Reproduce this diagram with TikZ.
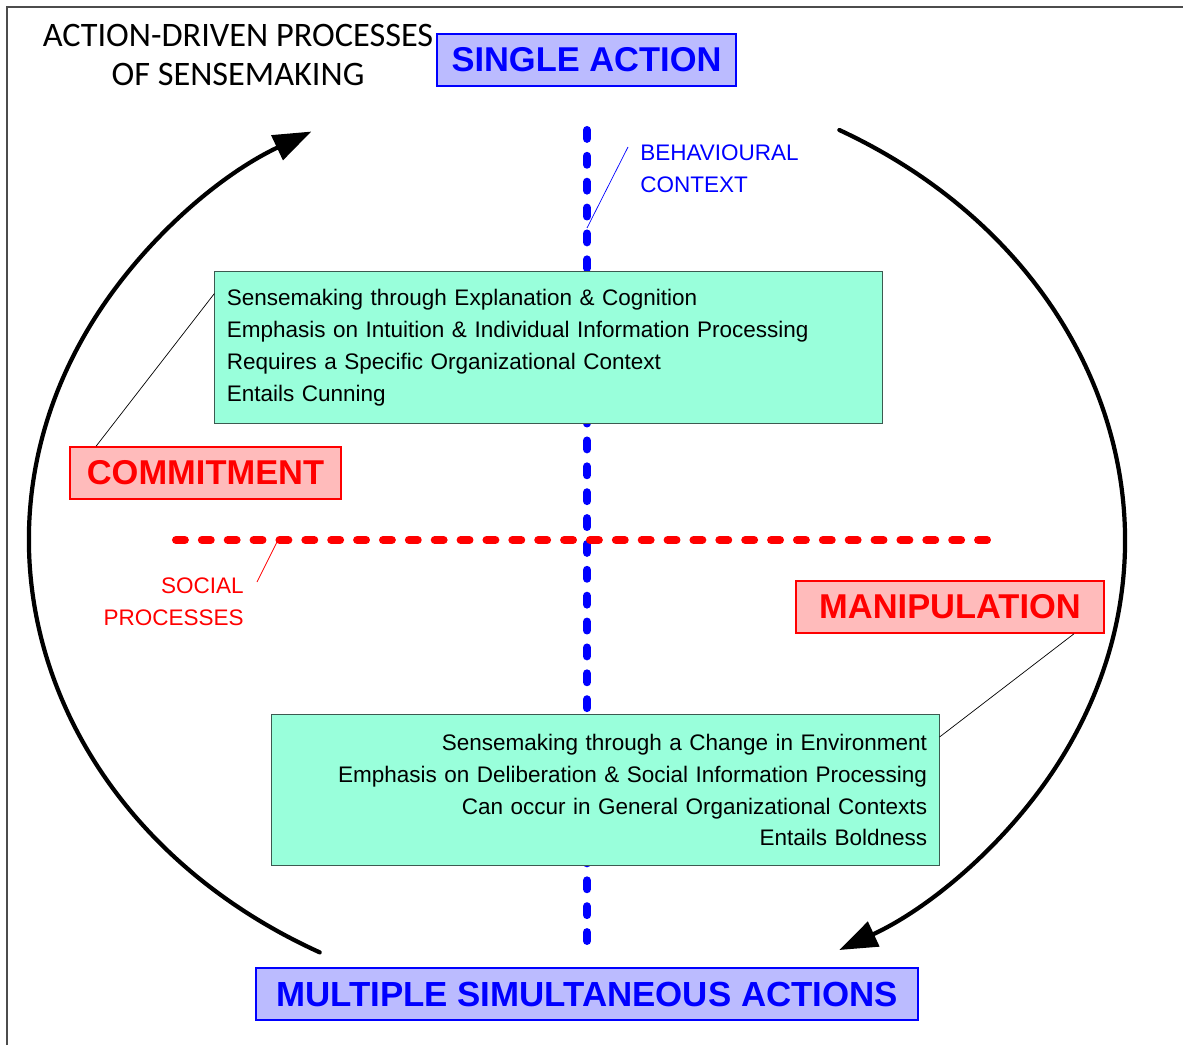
\documentclass[tikz,border=0pt]{standalone}
\usepackage{fontspec}
\setmainfont{Liberation Sans}
\newfontfamily\titlefont{Carlito}
\usetikzlibrary{calc,arrows.meta}

\definecolor{actfill}{RGB}{187,187,255}
\definecolor{modefill}{RGB}{255,187,187}
\definecolor{notefill}{RGB}{153,255,219}
\definecolor{noteline}{RGB}{60,90,80}

\tikzset{
  action/.style={draw=blue,line width=1.2pt,fill=actfill,text=blue,
    font=\fontsize{24.5pt}{28pt}\selectfont\bfseries,minimum height=1.3cm,inner xsep=0.3cm},
  mode/.style={draw=red,line width=1.2pt,fill=modefill,text=red,
    font=\fontsize{24.5pt}{28pt}\selectfont\bfseries,minimum height=1.3cm,inner xsep=0.3cm},
  notebox/.style={draw=noteline,line width=0.7pt,fill=notefill,
    font=\fontsize{16pt}{22.7pt}\selectfont,text width=16.075cm,inner xsep=0.3cm,
    minimum height=3.775cm},
  axis/.style={line width=5.7pt,line cap=round,dash pattern=on 6.3pt off 12.1pt},
  cycle/.style={line width=3pt,line cap=round,-{Triangle[length=27pt,width=19pt]}},
  leader/.style={line width=0.5pt}
}

\begin{document}
\begin{tikzpicture}[x=0.025cm,y=-0.025cm]
  \useasboundingbox (0,0) rectangle (1183,1045);
  % frame
  \draw[black!70,line width=1.5pt] (7,1045) -- (7,7) -- (1183,7);

  % title
  \node[font=\titlefont\fontsize{24.4pt}{28.4pt}\selectfont,align=center] (title) at (238,55)
    {ACTION-DRIVEN PROCESSES\\OF SENSEMAKING};

  % the two axes
  \coordinate (vtop) at (587,130);
  \coordinate (vbot) at (587,942);
  \coordinate (hleft) at (176,540);
  \coordinate (hright) at (988,540);
  \draw[axis,blue] (vtop) -- (vbot);
  \draw[axis,red] (hleft) -- (hright);

  % cycle arrows around the axes
  \draw[cycle] (577,540) ++(118:548 and 467) arc (118:241:548 and 467);
  \draw[cycle] (577,540) ++(-61.4:548 and 467) arc (-61.4:61.4:548 and 467);

  % end points of action
  \node[action,minimum width=7.475cm] (single) at (586.5,60) {SINGLE ACTION};
  \node[action,minimum width=16.55cm,font=\fontsize{24.8pt}{28pt}\selectfont\bfseries]
    (multi) at (587,994) {MULTIPLE SIMULTANEOUS ACTIONS};

  % axis labels
  \node[text=blue,font=\fontsize{16pt}{22.7pt}\selectfont,align=left,anchor=west,inner sep=0pt]
    (behav) at (640,169) {BEHAVIOURAL\\CONTEXT};
  \node[text=red,font=\fontsize{16pt}{22.7pt}\selectfont,align=right,anchor=east,inner sep=0pt]
    (social) at (244,602) {SOCIAL\\PROCESSES};
  \coordinate (behavtip) at (628,147);
  \coordinate (behavaxis) at (587,228);
  \coordinate (socialtip) at (257,582);
  \coordinate (socialaxis) at (278,540);
  \draw[leader,blue] (behavtip) -- (behavaxis);
  \draw[leader,red] (socialtip) -- (socialaxis);

  % descriptions of the two modes
  \node[notebox,align=left] (upper) at (548.5,347.5)
    {Sensemaking through Explanation \& Cognition\\
     Emphasis on Intuition \& Individual Information Processing\\
     Requires a Specific Organizational Context\\
     Entails Cunning};
  \node[notebox,align=right] (lower) at (605.5,790)
    {Sensemaking through a Change in Environment\\
     Emphasis on Deliberation \& Social Information Processing\\
     Can occur in General Organizational Contexts\\
     Entails Boldness};

  \node[mode,minimum width=6.775cm] (commit) at (205.5,473) {COMMITMENT};
  \node[mode,minimum width=7.7cm] (manip) at (950,607) {MANIPULATION};

  \draw[leader] ($(commit.north west)+(27,0)$) -- ($(upper.north west)+(0,22)$);
  \draw[leader] ($(manip.south east)+(-31,0)$) -- ($(lower.north east)+(0,23)$);
\end{tikzpicture}
\end{document}
